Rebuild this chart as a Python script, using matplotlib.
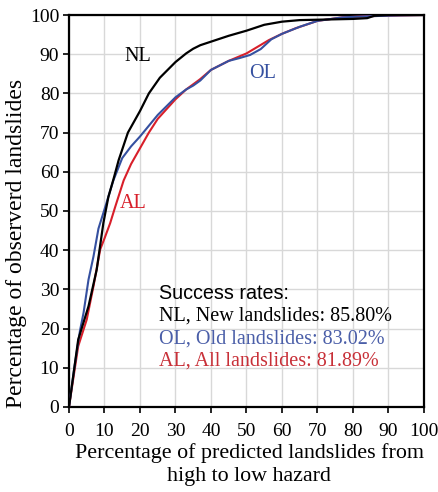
import matplotlib
matplotlib.use("Agg")
import matplotlib.pyplot as plt

nl_x = [0, 2.6, 5.5, 7.8, 9.7, 11.1, 12.5, 14, 16.6, 20, 22.5, 25.6, 30, 33, 35, 37, 40, 45, 50, 55, 60, 65, 70, 75, 80, 84, 86, 90, 100]
nl_y = [0, 17.2, 25.7, 35, 47, 53.6, 58, 63, 70, 75.5, 80, 84, 88, 90.2, 91.4, 92.3, 93.2, 94.7, 96, 97.5, 98.3, 98.7, 98.8, 98.9, 99.0, 99.2, 99.8, 100, 100]

ol_x = [0, 1.5, 3.1, 4.1, 5.5, 6.9, 8.3, 10.2, 12.5, 15, 17.5, 20, 25, 30, 33, 35, 37, 40, 45, 48, 51, 54, 57, 60, 65, 70, 77, 85, 93, 100]
ol_y = [0, 10, 19.5, 24, 32.5, 38.4, 45.5, 51, 57.8, 63.5, 66.5, 69, 74.5, 79, 81, 82, 83.3, 86, 88.3, 89.0, 89.8, 91.3, 93.8, 95.2, 97, 98.5, 99.4, 99.7, 99.9, 100]

al_x = [0, 2.6, 5, 6.9, 8.8, 10, 11.6, 13, 15.4, 17.5, 20, 22.5, 25, 27.5, 30, 33, 36.9, 40, 45, 50, 56.3, 60, 63.8, 70, 77, 84.5, 93, 100]
al_y = [0, 15.5, 22.3, 30.8, 40.2, 43, 46.9, 51, 57.8, 62, 66, 70, 73.5, 76, 78.5, 81, 83.6, 86, 88.3, 90.2, 93.6, 95.2, 96.6, 98.5, 99.4, 99.7, 99.9, 100]

ticks = [0, 10, 20, 30, 40, 50, 60, 70, 80, 90, 100]
rates = ["NL, New landslides: 85.80%", "OL, Old landslides: 83.02%", "AL, All landslides: 81.89%"]

c_nl = "#000000"
c_ol = "#3550a0"
c_al = "#d81f2a"

serif = ["Liberation Serif", "DejaVu Serif"]
sans = ["Liberation Sans", "DejaVu Sans"]

fig = plt.figure(figsize=(4.38, 4.92), dpi=100)
ax = fig.add_axes([0.1575, 0.1728, 0.8105, 0.7967])

ax.plot(al_x, al_y, color=c_al, lw=1.5, zorder=3)
ax.plot(ol_x, ol_y, color=c_ol, lw=1.5, zorder=4)
ax.plot(nl_x, nl_y, color=c_nl, lw=1.6, zorder=5)

ax.set_xlim(0, 100)
ax.set_ylim(0, 100)
ax.set_xticks(ticks)
ax.set_yticks(ticks)
ax.grid(True, color="#d8d8d8", lw=1.0, zorder=0)
ax.set_axisbelow(True)
for s in ax.spines.values():
    s.set_linewidth(1.6)
    s.set_color("black")
ax.tick_params(direction="out", length=4.5, width=1.2, labelsize=14)
ax.tick_params(axis="x", pad=7)
ax.tick_params(axis="y", pad=2.5)
for lbl in ax.get_xticklabels() + ax.get_yticklabels():
    lbl.set_fontfamily(serif)

fig.text(249 / 438, (492 - 458) / 492, "Percentage of predicted landslides from",
         fontsize=15.8, family=serif, ha="center", va="baseline")
fig.text(249 / 438, (492 - 481) / 492, "high to low hazard",
         fontsize=15.8, family=serif, ha="center", va="baseline")
fig.text(17 / 438, (492 - 243) / 492, "Percentage of observerd landslides",
         fontsize=17, family=serif, ha="center", va="center", rotation=90)

ax.text(19.5, 89.3, "NL", color=c_nl, fontsize=14.5, family=serif, ha="center", va="center")
ax.text(54.6, 85, "OL", color=c_ol, fontsize=14.5, family=serif, ha="center", va="center")
ax.text(18, 52, "AL", color=c_al, fontsize=14.5, family=serif, ha="center", va="center")

ax.text(25.3, 29, "Success rates:", color="black", fontsize=14.2, family=sans, ha="left", va="center")
ax.text(25.3, 23.2, rates[0], color="black", fontsize=14.5, family=serif, ha="left", va="center")
ax.text(25.3, 17.4, rates[1], color="#4a5ea8", fontsize=14.5, family=serif, ha="left", va="center")
ax.text(25.3, 11.6, rates[2], color="#c83038", fontsize=14.5, family=serif, ha="left", va="center")

fig.savefig("out.png", dpi=100)
